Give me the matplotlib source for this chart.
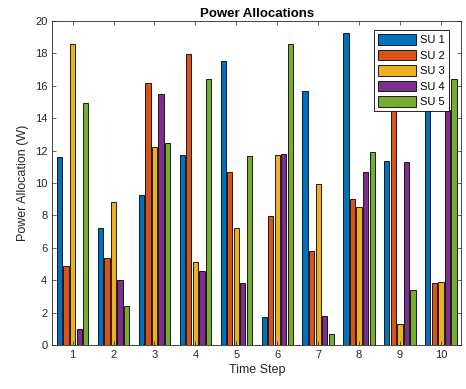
import numpy as np
import matplotlib
matplotlib.use("Agg")
from matplotlib import pyplot as plt

plt.rcParams["font.family"] = ["Liberation Sans", "DejaVu Sans"]

time_steps = [1, 2, 3, 4, 5, 6, 7, 8, 9, 10]
labels = ["SU 1", "SU 2", "SU 3", "SU 4", "SU 5"]
su1 = [11.6, 7.25, 9.25, 11.7, 17.55, 1.75, 15.7, 19.25, 11.35, 15.0]
su2 = [4.9, 5.35, 16.2, 17.95, 10.7, 7.95, 5.8, 9.0, 16.5, 3.8]
su3 = [18.55, 8.85, 12.25, 5.15, 7.25, 11.75, 9.95, 8.55, 1.3, 3.9]
su4 = [1.0, 4.0, 15.5, 4.6, 3.8, 11.8, 1.8, 10.7, 11.3, 14.5]
su5 = [14.95, 2.4, 12.45, 16.4, 11.65, 18.6, 0.7, 11.9, 3.4, 16.4]
colors = ["#0072BD", "#D95319", "#EDB120", "#7E2F8E", "#77AC30"]

fig = plt.figure(figsize=(4.66, 3.89), dpi=100)
ax = fig.add_axes([0.112, 0.113, 0.878, 0.833])

x = np.array(time_steps)
pitch = 0.16
for i, vals in enumerate([su1, su2, su3, su4, su5]):
    ax.bar(x + (i - 2) * pitch, vals, width=0.128, color=colors[i],
           edgecolor="black", linewidth=0.6, label=labels[i])

ax.set_xlim(0.5, 10.5)
ax.set_ylim(0, 20)
ax.set_xticks(time_steps)
ax.set_yticks(range(0, 21, 2))
ax.tick_params(direction="in", top=True, right=True, labelsize=8,
               colors="#262626", length=3, width=0.5)
for s in ax.spines.values():
    s.set_color("#262626")
    s.set_linewidth(0.6)

ax.set_title("Power Allocations", fontsize=9.5, fontweight="bold", pad=3)
ax.set_xlabel("Time Step", fontsize=9, color="#262626", labelpad=3)
ax.set_ylabel("Power Allocation (W)", fontsize=9, color="#262626", labelpad=4)

leg = ax.legend(loc="upper right", bbox_to_anchor=(0.97, 0.972), fontsize=8,
                fancybox=False, edgecolor="black", framealpha=1,
                handlelength=3.4, handleheight=1.1, handletextpad=0.4,
                labelspacing=0.4, borderpad=0.35, borderaxespad=0)
leg.get_frame().set_linewidth(0.6)

fig.savefig("out.png", dpi=100)
